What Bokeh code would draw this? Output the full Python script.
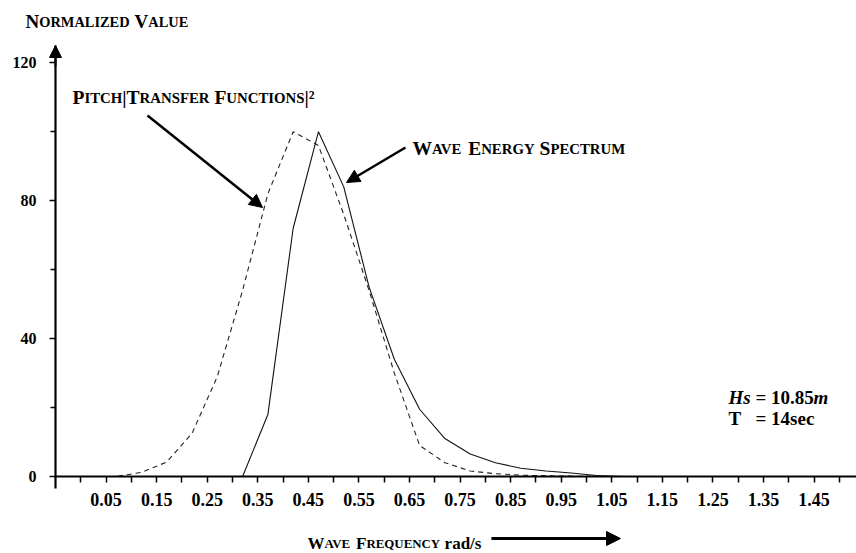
from bokeh.plotting import figure
from bokeh.models import FixedTicker, Label, Arrow, NormalHead
from bokeh.embed import file_html
from bokeh.resources import INLINE

# ---------------- data ----------------
freq = [0.02, 0.07, 0.12, 0.17, 0.22, 0.27, 0.32, 0.37, 0.42, 0.47,
        0.52, 0.57, 0.62, 0.67, 0.72, 0.77, 0.82, 0.87, 0.92, 0.97,
        1.02, 1.07, 1.12, 1.17, 1.22, 1.27, 1.32, 1.37, 1.42, 1.47]
wave_spectrum = [0, 0, 0, 0, 0, 0, 0, 18, 72, 100,
                 84, 55, 34, 19.5, 11, 6.5, 4, 2.4, 1.6, 1.0,
                 0.3, 0, 0, 0, 0, 0, 0, 0, 0, 0]
pitch_transfer = [0, 0, 1.2, 4.2, 12.5, 29, 54, 82, 100, 96,
                  76, 54, 30, 9, 4, 1.6, 0.8, 0.4, 0.2, 0.1,
                  0, 0, 0, 0, 0, 0, 0, 0, 0, 0]

x_tick_values = [0.05, 0.15, 0.25, 0.35, 0.45, 0.55, 0.65, 0.75,
                 0.85, 0.95, 1.05, 1.15, 1.25, 1.35, 1.45]
x_tick_labels = ["0.05", "0.15", "0.25", "0.35", "0.45", "0.55", "0.65", "0.75",
                 "0.85", "0.95", "1.05", "1.15", "1.25", "1.35", "1.45"]
x_minor_values = [0.0, 0.1, 0.2, 0.3, 0.4, 0.5, 0.6, 0.7, 0.8,
                  0.9, 1.0, 1.1, 1.2, 1.3, 1.4, 1.5]
y_tick_values = [0, 40, 80, 120]
y_minor_values = [20, 60, 100]

# ---------------- layout helpers ----------------
CW, CH = 856, 553
X0_PX, PX_PER_X = 55.0, 505.7     # canvas px of x=-0.05 ; px per unit
Y0_PX, PX_PER_Y = 476.0, 3.448    # canvas px of y=0 ; px per unit


def px2x(px):
    return -0.05 + (px - X0_PX) / PX_PER_X


def py2y(py):
    return (Y0_PX - py) / PX_PER_Y


SERIF = "Liberation Serif"
# Times-Bold advance widths (per 1000 em)
W = {' ': 250, 'A': 722, 'C': 722, 'D': 722, 'E': 667, 'F': 611, 'G': 778,
     'H': 778, 'I': 389, 'L': 667, 'M': 944, 'N': 722, 'O': 778, 'P': 611,
     'Q': 778, 'R': 722, 'S': 556, 'T': 667, 'U': 722, 'V': 722, 'W': 1000,
     'Y': 722, 'Z': 667, '|': 220, '\u00b2': 300, 'a': 500, 'd': 556,
     'r': 444, 's': 389, '/': 278}

# the plotting frame covers the whole canvas so nothing is clipped
p = figure(width=CW, height=CH,
           x_range=(px2x(0), px2x(CW)), y_range=(py2y(CH), py2y(0)),
           output_backend="svg", toolbar_location=None,
           min_border_left=0, min_border_right=0, min_border_top=0,
           min_border_bottom=0)
p.outline_line_color = None
p.xgrid.visible = False
p.ygrid.visible = False
p.background_fill_color = "white"
p.border_fill_color = "white"


def add_smallcaps(pieces, x_px, base_px, size, ratio=0.76):
    """pieces: list of (text, mode) where mode 'sc' = small caps, 'plain' = as is."""
    cur = x_px
    for text, mode in pieces:
        segs = []
        for ch in text:
            if ch == ' ':
                segs.append([' ', None])
                continue
            big = (not ch.islower()) if mode == 'sc' else True
            if segs and segs[-1][1] == big:
                segs[-1][0] += ch
            else:
                segs.append([ch, big])
        for seg, big in segs:
            if big is None:
                cur += W[' '] * size / 1000.0
                continue
            s = size if big else size * ratio
            t = seg.upper() if mode == 'sc' else seg
            p.add_layout(Label(x=px2x(cur), y=py2y(base_px), text=t,
                               text_font=SERIF, text_font_style="bold",
                               text_font_size=f"{s:.1f}px", text_color="black",
                               text_baseline="alphabetic", text_align="left"))
            cur += sum(W.get(c, 500) for c in t) * s / 1000.0
    return cur


# ---------------- curves ----------------
p.line(freq, pitch_transfer, line_color="#222222", line_width=1.1, line_dash="5 4")
p.line(freq, wave_spectrum, line_color="#111111", line_width=1.1)

# ---------------- axes ----------------
xa = p.xaxis[0]
xa.fixed_location = 0
xa.bounds = (-0.05, px2x(CW))
xa.ticker = FixedTicker(ticks=x_tick_values, minor_ticks=x_minor_values)
xa.major_label_overrides = {v: l for v, l in zip(x_tick_values, x_tick_labels)}
xa.axis_line_width = 2.2
xa.axis_line_color = "black"
xa.major_tick_out = 6
xa.major_tick_in = 0
xa.minor_tick_out = 6
xa.minor_tick_in = 0
xa.major_tick_line_width = 1.5
xa.minor_tick_line_width = 1.5
xa.major_label_standoff = 10
xa.major_label_text_font = SERIF
xa.major_label_text_font_style = "bold"
xa.major_label_text_font_size = "18px"
xa.major_label_text_color = "black"

ya = p.yaxis[0]
ya.fixed_location = -0.05
ya.bounds = (py2y(488), 125)
ya.ticker = FixedTicker(ticks=y_tick_values, minor_ticks=y_minor_values)
ya.axis_line_width = 2.2
ya.axis_line_color = "black"
ya.major_tick_out = 6
ya.major_tick_in = 0
ya.minor_tick_out = 5
ya.minor_tick_in = 0
ya.major_tick_line_width = 1.5
ya.minor_tick_line_width = 1.5
ya.major_label_standoff = 13
ya.major_label_text_font = SERIF
ya.major_label_text_font_style = "bold"
ya.major_label_text_font_size = "16px"
ya.major_label_text_color = "black"

# y axis arrow head on top
p.add_layout(Arrow(end=NormalHead(size=12, fill_color="black", line_color="black"),
                   x_start=-0.05, y_start=119, x_end=-0.05, y_end=125,
                   line_width=2, line_color="black"))

# ---------------- texts ----------------
add_smallcaps([("Normalized Value", "sc")], 25, 21, 19)
add_smallcaps([("Pitch|Transfer Functions|\u00b2", "sc")], 72, 97, 19.5)
add_smallcaps([("Wave Energy Spectrum", "sc")], 412, 148, 19.5)
title_end = add_smallcaps([("Wave Frequency ", "sc"), ("rad/s", "plain")], 307, 543, 17)

# annotation arrows
p.add_layout(Arrow(end=NormalHead(size=13, fill_color="black", line_color="black"),
                   x_start=px2x(147), y_start=py2y(115), x_end=px2x(262), y_end=py2y(207),
                   line_width=2.5, line_color="black"))
p.add_layout(Arrow(end=NormalHead(size=13, fill_color="black", line_color="black"),
                   x_start=px2x(405), y_start=py2y(147), x_end=px2x(346), y_end=py2y(182),
                   line_width=2.5, line_color="black"))
p.add_layout(Arrow(end=NormalHead(size=14, fill_color="black", line_color="black"),
                   x_start=px2x(title_end + 10), y_start=py2y(538),
                   x_end=px2x(620), y_end=py2y(538),
                   line_width=3, line_color="black"))

# Hs / T note
note = [("Hs", 728, 397, "bold italic"), ("= 10.85", 755, 397, "bold"),
        ("m", 813, 397, "bold italic"),
        ("T", 728, 418, "bold"), ("= 14sec", 755, 418, "bold")]
for t, xp, yp, st in note:
    p.add_layout(Label(x=px2x(xp), y=py2y(yp), text=t, text_font=SERIF,
                       text_font_style=st, text_font_size="19px", text_color="black",
                       text_baseline="alphabetic", text_align="left"))

open("out.html", "w").write(file_html(p, INLINE))
